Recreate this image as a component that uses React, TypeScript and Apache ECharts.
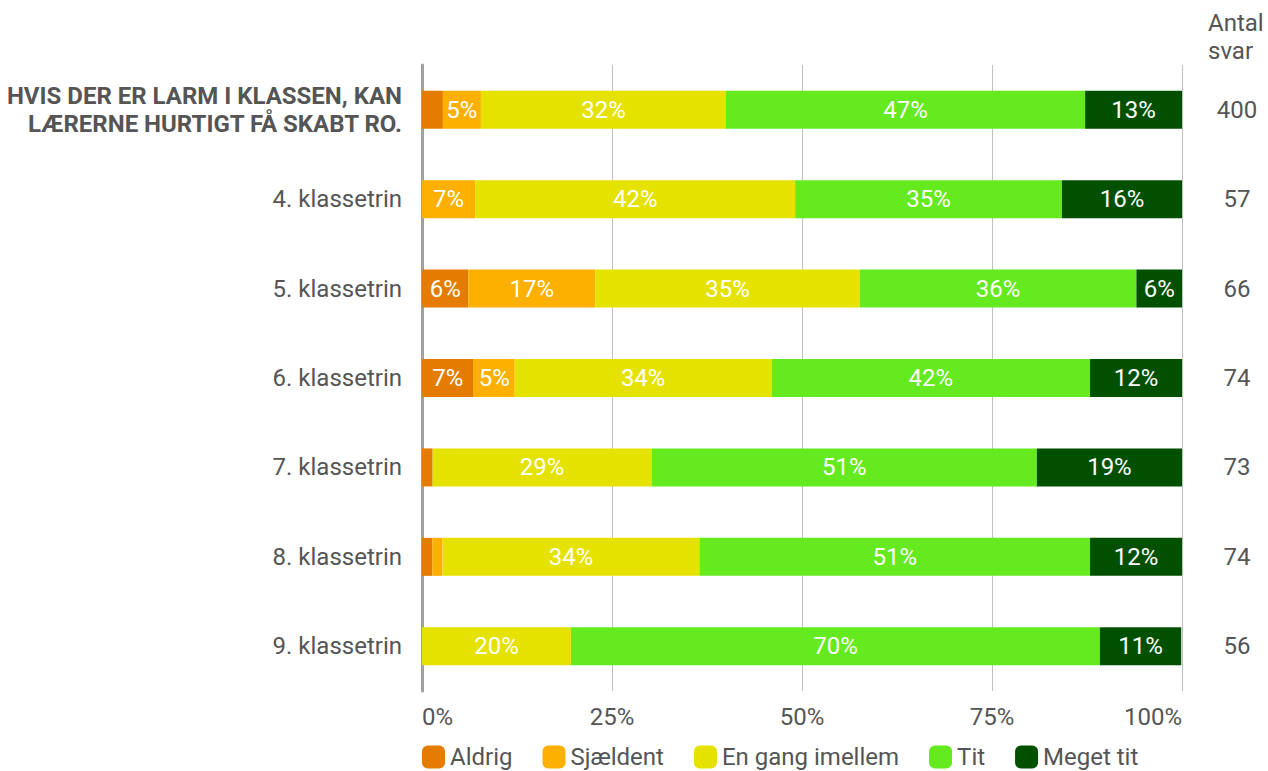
import React, { useEffect, useRef } from "react";
import * as echarts from "echarts";

const categories = [
  "HVIS DER ER LARM I KLASSEN, KAN\nLÆRERNE HURTIGT FÅ SKABT RO.",
  "4. klassetrin",
  "5. klassetrin",
  "6. klassetrin",
  "7. klassetrin",
  "8. klassetrin",
  "9. klassetrin",
];
const counts = ["400", "57", "66", "74", "73", "74", "56"];
const seriesNames = ["Aldrig", "Sjældent", "En gang imellem", "Tit", "Meget tit"];
const colors = ["#E37C00", "#FDB000", "#E6E200", "#64EA1F", "#005000"];
const aldrig = [2.75, 0, 6.1, 6.8, 1.4, 1.35, 0];
const sjaeldent = [5.0, 7.0, 16.7, 5.4, 0, 1.35, 0];
const enGang = [32.25, 42.1, 34.8, 33.8, 28.8, 33.8, 19.6];
const tit = [47.25, 35.1, 36.4, 41.9, 50.7, 51.4, 69.6];
const megetTit = [12.75, 15.8, 6.1, 12.2, 19.2, 12.2, 10.7];
const xTicks = [0, 25, 50, 75, 100];

const FONT = "Roboto, 'Noto Sans', sans-serif";
const FS = 24;

export default function App() {
  const ref = useRef<HTMLDivElement>(null);
  useEffect(() => {
    if (!ref.current) return;
    const chart = echarts.init(ref.current, null, { renderer: "svg" });
    const data = [aldrig, sjaeldent, enGang, tit, megetTit];
    const option: any = {
      animation: false,
      textStyle: { fontFamily: FONT },
      color: colors,
      grid: { left: 422, right: 86, top: 65, bottom: 80, containLabel: false },
      legend: {
        left: 422,
        top: 745,
        padding: 0,
        itemWidth: 23,
        itemHeight: 23,
        itemGap: 30,
        icon: "roundRect",
        textStyle: { color: "#555", fontSize: FS, fontFamily: FONT },
        data: seriesNames,
      },
      xAxis: {
        type: "value",
        min: 0,
        max: 100,
        interval: 25,
        axisLine: { show: false },
        axisTick: { show: false },
        splitLine: { show: true, lineStyle: { color: "#c0c0c0", width: 1 } },
        axisLabel: {
          color: "#555",
          fontSize: FS,
          margin: 14,
          formatter: (v: number) => v + "%",
          customValues: xTicks,
          alignMinLabel: "left",
          alignMaxLabel: "right",
        },
      },
      yAxis: [
        {
          type: "category",
          data: categories,
          inverse: true,
          axisLine: { show: true, lineStyle: { color: "#a0a0a0", width: 3 } },
          axisTick: { show: false },
          axisLabel: {
            margin: 20,
            color: "#555",
            fontSize: FS,
            formatter: (v: string, i: number) => {
              if (i === 0) return v.split("\n").map((l) => "{b|" + l + "}").join("\n");
              return "{n|" + v + "}";
            },
            rich: {
              b: { fontWeight: "bold", fontSize: FS, color: "#555", lineHeight: 28, align: "right", fontFamily: FONT },
              n: { fontSize: FS, color: "#555", fontFamily: FONT },
            },
          },
        },
        {
          type: "category",
          data: counts,
          inverse: true,
          position: "right",
          axisLine: { show: false },
          axisTick: { show: false },
          axisLabel: { margin: 55, align: "center", color: "#555", fontSize: FS },
        },
      ],
      graphic: [
        {
          type: "text",
          left: 1208,
          top: 9,
          style: {
            text: "Antal\nsvar",
            fill: "#555",
            fontSize: FS,
            lineHeight: 28,
            align: "center",
            fontFamily: FONT,
          },
        },
      ],
      series: seriesNames.map((name, k) => ({
        name,
        type: "bar",
        stack: "total",
        yAxisIndex: 0,
        barWidth: 38,
        itemStyle: { color: colors[k] },
        label: {
          show: true,
          position: "inside",
          color: "#fff",
          fontSize: FS,
          fontFamily: FONT,
          formatter: (p: any) => (p.value >= 4 ? Math.round(p.value) + "%" : ""),
        },
        data: data[k],
      })),
    };
    chart.setOption(option);
    return () => chart.dispose();
  }, []);
  return (
    <div
      ref={ref}
      style={{ position: "absolute", left: 0, top: 0, width: 1268, height: 771, background: "#fff" }}
    />
  );
}
